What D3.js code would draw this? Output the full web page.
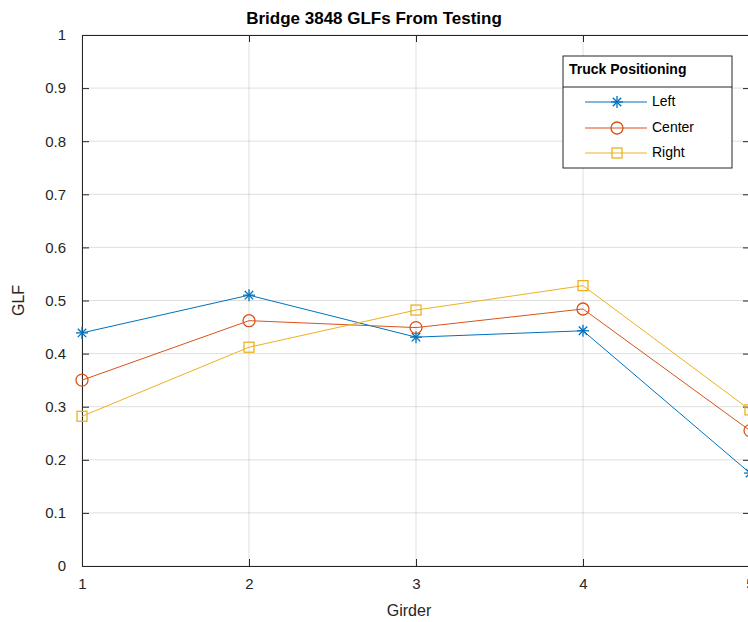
<!DOCTYPE html>
<html>
<head>
<meta charset="utf-8">
<script src="https://cdn.jsdelivr.net/npm/d3@7"></script>
<style>
  body { margin: 0; background: #fff; }
  text { font-family: "Liberation Sans", Arial, sans-serif; fill: #262626; }
</style>
</head>
<body>
<div id="chart"></div>
<script>
// girders and measured GLFs
var girders = [1, 2, 3, 4, 5];
var leftGLF = [0.439, 0.510, 0.431, 0.443, 0.175];
var centerGLF = [0.350, 0.462, 0.449, 0.484, 0.255];
var rightGLF = [0.282, 0.412, 0.482, 0.528, 0.294];
var seriesNames = ["Left", "Center", "Right"];
var yTicks = [0, 0.1, 0.2, 0.3, 0.4, 0.5, 0.6, 0.7, 0.8, 0.9, 1];

var colors = ["#0072BD", "#D95319", "#EDB120"];
var symbols = ["star", "circle", "square"];
var series = [leftGLF, centerGLF, rightGLF];

var width = 748, height = 622;
var margin = {top: 35, right: -2, bottom: 56, left: 82};

var svg = d3.select("#chart").append("svg")
    .attr("width", width)
    .attr("height", height);

var x = d3.scaleLinear()
    .domain([1, 5])
    .range([margin.left, width - margin.right]);

var y = d3.scaleLinear()
    .domain([0, 1])
    .range([height - margin.bottom, margin.top]);

// grid
var grid = svg.append("g");
grid.selectAll(".gx")
    .data(girders)
    .enter().append("line")
    .attr("x1", function(d) { return x(d); })
    .attr("x2", function(d) { return x(d); })
    .attr("y1", y(0))
    .attr("y2", y(1))
    .style("stroke", "#262626").style("stroke-opacity", 0.15).style("stroke-width", 1);
grid.selectAll(".gy")
    .data(yTicks)
    .enter().append("line")
    .attr("x1", x(1))
    .attr("x2", x(5))
    .attr("y1", function(d) { return y(d); })
    .attr("y2", function(d) { return y(d); })
    .style("stroke", "#262626").style("stroke-opacity", 0.15).style("stroke-width", 1);

// axes
var xAxis = svg.append("g")
    .attr("transform", "translate(0," + y(0) + ")")
    .call(d3.axisBottom(x).tickValues(girders).tickFormat(d3.format("d")).tickSizeInner(-7).tickSizeOuter(0).tickPadding(12));
var xAxisTop = svg.append("g")
    .attr("transform", "translate(0," + y(1) + ")")
    .call(d3.axisTop(x).tickValues(girders).tickFormat("").tickSizeInner(-7).tickSizeOuter(0));
var yAxis = svg.append("g")
    .attr("transform", "translate(" + x(1) + ",0)")
    .call(d3.axisLeft(y).tickValues(yTicks).tickFormat(function(d) { return d3.format("")(+d.toFixed(1)); }).tickSizeInner(-7).tickSizeOuter(0).tickPadding(16));
var yAxisRight = svg.append("g")
    .attr("transform", "translate(" + x(5) + ",0)")
    .call(d3.axisRight(y).tickValues(yTicks).tickFormat("").tickSizeInner(-7).tickSizeOuter(0));

[xAxis, xAxisTop, yAxis, yAxisRight].forEach(function(a) {
  a.select(".domain").style("stroke", "#262626").style("stroke-width", 1);
  a.selectAll(".tick line").style("stroke", "#262626");
  a.selectAll(".tick text").style("font-size", "15px").style("fill", "#262626")
    .style("font-family", "'Liberation Sans', Arial, sans-serif");
});

// lines and markers
var line = d3.line()
    .x(function(d, i) { return x(girders[i]); })
    .y(function(d) { return y(d); });

function drawMarker(g, type, color, cx, cy) {
  if (type == "star") {
    var r = 6;
    [[-r, 0, r, 0], [0, -r, 0, r], [-r * 0.7, -r * 0.7, r * 0.7, r * 0.7], [-r * 0.7, r * 0.7, r * 0.7, -r * 0.7]].forEach(function(s) {
      g.append("line")
        .attr("x1", cx + s[0]).attr("y1", cy + s[1])
        .attr("x2", cx + s[2]).attr("y2", cy + s[3])
        .style("stroke", color).style("stroke-width", 1.3);
    });
  } else if (type == "circle") {
    g.append("circle")
      .attr("cx", cx).attr("cy", cy).attr("r", 6)
      .style("fill", "none").style("stroke", color).style("stroke-width", 1.3);
  } else {
    g.append("rect")
      .attr("x", cx - 5).attr("y", cy - 5).attr("width", 10).attr("height", 10)
      .style("fill", "none").style("stroke", color).style("stroke-width", 1.3);
  }
}

series.forEach(function(s, k) {
  var g = svg.append("g");
  g.append("path")
    .datum(s)
    .attr("d", line)
    .style("fill", "none")
    .style("stroke", colors[k])
    .style("stroke-width", 1);
  s.forEach(function(v, i) {
    drawMarker(g, symbols[k], colors[k], x(girders[i]), y(v));
  });
});

// title and labels
svg.append("text")
    .attr("x", 374).attr("y", 24)
    .attr("text-anchor", "middle")
    .style("font-size", "17px").style("font-weight", "bold").style("fill", "#000")
    .text("Bridge 3848 GLFs From Testing");

svg.append("text")
    .attr("x", 409).attr("y", 616)
    .attr("text-anchor", "middle")
    .style("font-size", "16px")
    .text("Girder");

svg.append("text")
    .attr("transform", "translate(24," + y(0.5) + ") rotate(-90)")
    .attr("text-anchor", "middle")
    .style("font-size", "16px")
    .text("GLF");

// legend
var legend = svg.append("g").attr("transform", "translate(563,56)");
legend.append("rect")
    .attr("width", 169).attr("height", 112)
    .style("fill", "#fff").style("stroke", "#262626").style("stroke-width", 1);
legend.append("line")
    .attr("x1", 0).attr("x2", 169).attr("y1", 31).attr("y2", 31)
    .style("stroke", "#262626").style("stroke-width", 1);
legend.append("text")
    .attr("x", 6).attr("y", 18)
    .style("font-size", "14px").style("font-weight", "bold").style("fill", "#000")
    .text("Truck Positioning");

var legendY = [46, 72, 97];
seriesNames.forEach(function(name, k) {
  var row = legend.append("g");
  row.append("line")
    .attr("x1", 22).attr("x2", 84).attr("y1", legendY[k]).attr("y2", legendY[k])
    .style("stroke", colors[k]).style("stroke-width", 1);
  drawMarker(row, symbols[k], colors[k], 54, legendY[k]);
  row.append("text")
    .attr("x", 89).attr("y", legendY[k])
    .attr("dy", "0.25em")
    .style("font-size", "14px").style("fill", "#000")
    .text(name);
});
</script>
</body>
</html>
